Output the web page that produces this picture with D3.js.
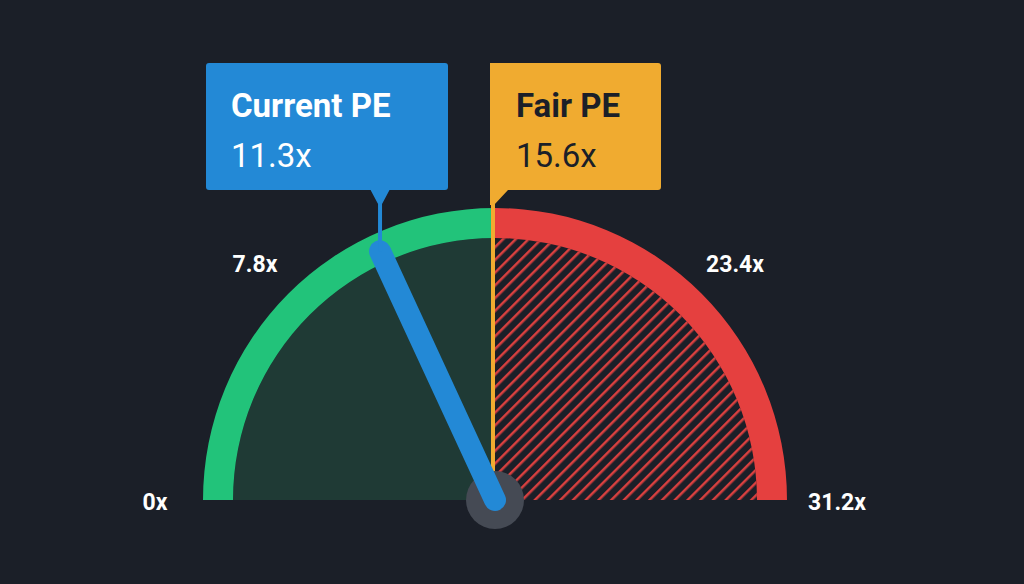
<!DOCTYPE html><html><head><meta charset="utf-8"><script src="https://cdn.jsdelivr.net/npm/d3@7"></script>
<style>body{margin:0;background:#1b1f28;}svg{display:block;font-family:Roboto,sans-serif}</style></head><body>
<svg id="c" width="1024" height="584"></svg>
<script>
const scaleMax = 31.2;
const currentPE = 11.3;
const fairPE = 15.6;
const tickValues = [0, 7.8, 23.4, 31.2];
const tickLabels = ["0x", "7.8x", "23.4x", "31.2x"];
const svg = d3.select("#c");
const cx = 495, cy = 500, R = 292, r = 262;
const ang = d3.scaleLinear().domain([0, scaleMax]).range([-Math.PI/2, Math.PI/2]);
const defs = svg.append("defs");
const pat = defs.append("pattern").attr("id","h").attr("patternUnits","userSpaceOnUse").attr("width",9).attr("height",9).attr("patternTransform","rotate(45)");
pat.append("rect").attr("width",9).attr("height",9).attr("fill","#1b1f28");
pat.append("rect").attr("width",2.5).attr("height",9).attr("fill","#d9403f");
const g = svg.append("g").attr("transform",`translate(${cx},${cy})`);
const arc = d3.arc();
g.append("path").attr("d",arc({innerRadius:0,outerRadius:r,startAngle:ang(0),endAngle:ang(fairPE)})).attr("fill","#1f3a35");
g.append("path").attr("d",arc({innerRadius:0,outerRadius:r,startAngle:ang(fairPE),endAngle:ang(scaleMax)})).attr("fill","url(#h)");
g.append("path").attr("d",arc({innerRadius:r,outerRadius:R,startAngle:ang(0),endAngle:ang(fairPE)})).attr("fill","#22c37a");
g.append("path").attr("d",arc({innerRadius:r,outerRadius:R,startAngle:ang(fairPE),endAngle:ang(scaleMax)})).attr("fill","#e5403f");
const fa = ang(fairPE);
const fx = (R)*Math.sin(fa);
g.append("line").attr("x1",fx-2).attr("x2",fx-2).attr("y1",0).attr("y2",-330).attr("stroke","#f0ab30").attr("stroke-width",4);
function box(x,y,w,h,col,px,tipY,t1,t2){
  const s = svg.append("g");
  s.append("rect").attr("x",x).attr("y",y).attr("width",w).attr("height",h).attr("rx",3).attr("fill",col);
  s.append("path").attr("d",`M${px-10},${y+h-1} L${px+10},${y+h-1} L${px+2},${y+h+14} L${px+2},${tipY} L${px-2},${tipY} L${px-2},${y+h+14} Z`).attr("fill",col);
  s.append("text").attr("x",x+25).attr("y",y+54).attr("fill","#fff").attr("font-size",33).attr("font-weight",700).text(t1);
  s.append("text").attr("x",x+25).attr("y",y+104).attr("fill","#fff").attr("font-size",33).text(t2);
}
const ca = ang(currentPE);
const nx = cx + (r+12)*Math.sin(ca), ny = cy - (r+12)*Math.cos(ca);
box(206,63,242,127,"#2389d6",nx,ny,"Current PE",currentPE+"x");
svg.append("path").attr("d",`M490,63 H658 a3,3 0 0 1 3,3 V187 a3,3 0 0 1 -3,3 H508 L494,205 L490,205 Z`).attr("fill","#f0ab30");
svg.append("text").attr("x",516).attr("y",117).attr("fill","#1b1f28").attr("font-size",33).attr("font-weight",700).text("Fair PE");
svg.append("text").attr("x",516).attr("y",167).attr("fill","#1b1f28").attr("font-size",33).text(fairPE+"x");
g.append("circle").attr("r",29).attr("fill","#454a54");
g.append("line").attr("x1",0).attr("y1",0).attr("x2",(r+12)*Math.sin(ca)).attr("y2",-(r+12)*Math.cos(ca)).attr("stroke","#2389d6").attr("stroke-width",22).attr("stroke-linecap","round");
const tpos = [[155,510],[255,272],[735,272],[837,510]];
tickValues.forEach((v,i)=>{
  svg.append("text").attr("x",tpos[i][0]).attr("y",tpos[i][1]).attr("text-anchor","middle").attr("fill","#fff").attr("font-size",23).attr("font-weight",700).text(tickLabels[i]);
});
</script></body></html>
